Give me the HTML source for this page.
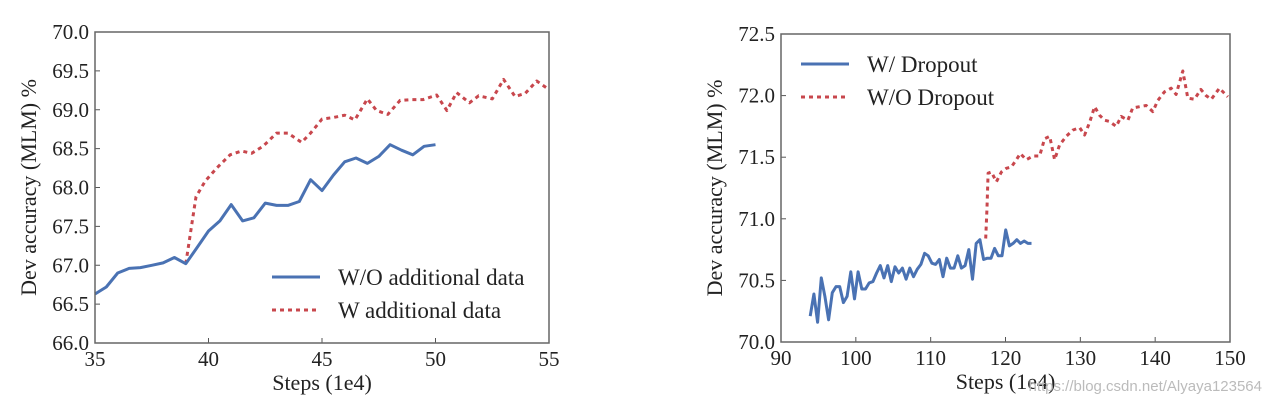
<!DOCTYPE html>
<html><head><meta charset="utf-8"><style>
body{margin:0;background:#fff;width:1271px;height:405px;overflow:hidden}
svg text{font-family:"Liberation Serif",serif;fill:#222}
</style></head><body>
<svg id="svg" width="1271" height="405"></svg>
<script>
const leftBlueX=[35,35.5,36,36.5,37,37.5,38,38.5,39,39.5,40,40.5,41,41.5,42,42.5,43,43.5,44,44.5,45,45.5,46,46.5,47,47.5,48,48.5,49,49.5,50];
const leftBlueY=[66.63,66.72,66.90,66.96,66.97,67.00,67.03,67.10,67.02,67.23,67.44,67.57,67.78,67.57,67.61,67.80,67.77,67.77,67.82,68.10,67.96,68.16,68.33,68.38,68.31,68.40,68.55,68.48,68.42,68.53,68.55];
const leftRedX=[39,39.2,39.45,39.85,40.36,40.95,41.46,41.9,42.4,43.0,43.5,44.1,44.5,45.0,45.5,46.0,46.45,47.0,47.4,47.9,48.44,48.95,49.46,50.05,50.5,50.93,51.5,51.9,52.5,53.0,53.5,53.95,54.46,54.9,55];
const leftRedY=[67.02,67.4,67.88,68.08,68.25,68.42,68.47,68.44,68.53,68.70,68.70,68.58,68.70,68.88,68.90,68.93,68.87,69.14,68.99,68.94,69.12,69.13,69.13,69.19,68.99,69.22,69.09,69.18,69.14,69.39,69.17,69.21,69.37,69.28,69.25];
const rightBlueY=[70.21,70.39,70.16,70.52,70.37,70.18,70.40,70.45,70.45,70.32,70.37,70.57,70.35,70.57,70.43,70.43,70.48,70.49,70.56,70.62,70.52,70.62,70.49,70.61,70.56,70.60,70.51,70.60,70.53,70.59,70.63,70.72,70.70,70.64,70.63,70.67,70.53,70.68,70.60,70.60,70.70,70.60,70.62,70.75,70.51,70.80,70.83,70.67,70.68,70.68,70.76,70.70,70.70,70.91,70.78,70.80,70.83,70.80,70.82,70.80,70.80];
const rightBlueX=rightBlueY.map((_,i)=>93.9+i*0.493);
const rightRedX=[117.35,117.53,117.67,118.11,118.78,119.45,120.11,120.78,121.45,121.98,122.78,123.67,124.56,125.23,125.9,126.56,127.23,128.12,129.0,129.9,130.57,131.23,131.9,132.57,133.23,133.9,134.79,135.46,136.35,137.0,137.9,138.8,139.68,140.35,141.24,142.13,142.8,143.69,144.36,145.25,146.1,146.8,147.5,148.58,149.7];
const rightRedY=[70.84,71.09,71.37,71.38,71.30,71.38,71.41,71.42,71.48,71.53,71.48,71.51,71.51,71.65,71.67,71.48,71.60,71.67,71.72,71.74,71.68,71.78,71.91,71.84,71.80,71.79,71.75,71.83,71.80,71.90,71.91,71.92,71.87,71.96,72.03,72.06,72.01,72.2,71.98,71.97,72.05,72.0,71.97,72.06,71.99];
const leftXTicks=[35,40,45,50,55];
const leftYTicks=["66.0","66.5","67.0","67.5","68.0","68.5","69.0","69.5","70.0"];
const rightXTicks=[90,100,110,120,130,140,150];
const rightYTicks=["70.0","70.5","71.0","71.5","72.0","72.5"];

const svg=document.getElementById('svg');
const NS='http://www.w3.org/2000/svg';
function mk(tag,attrs,parent){const e=document.createElementNS(NS,tag);for(const k in attrs)e.setAttribute(k,attrs[k]);(parent||svg).appendChild(e);return e;}

function chart(name,px0,px1,py0,py1,xmin,xmax,ymin,ymax,xt,yt,series,legend,lx,ly){
  const g=mk('g',{});
  
  
  const sx=v=>px0+(v-xmin)/(xmax-xmin)*(px1-px0);
  const sy=v=>py1-(v-ymin)/(ymax-ymin)*(py1-py0);
  xt.forEach(v=>{
    const t=mk('text',{x:sx(v),y:py1+23,'text-anchor':'middle','font-size':21},g);t.textContent=v;
    
    
    mk('line',{x1:sx(v),x2:sx(v),y1:py1,y2:py1-5,stroke:'#555'},g);
  });
  yt.forEach(s=>{
    const v=parseFloat(s);
    const t=mk('text',{x:px0-6,y:sy(v)+7,'text-anchor':'end','font-size':21},g);t.textContent=s;
    
    
    mk('line',{x1:px0,x2:px0+5,y1:sy(v),y2:sy(v),stroke:'#555'},g);
  });
  const xl=mk('text',{x:(px0+px1)/2,y:py1+47,'text-anchor':'middle','font-size':22},g);xl.textContent='Steps (1e4)';
  
  
  const yl=mk('text',{x:0,y:0,'text-anchor':'middle','font-size':22,transform:`translate(${px0-59},${(py0+py1)/2}) rotate(-90)`},g);yl.textContent='Dev accuracy (MLM) %';
  
  
  series.forEach(s=>{
    const d=s.x.map((v,i)=>(i?'L':'M')+sx(v).toFixed(1)+' '+sy(s.y[i]).toFixed(1)).join(' ');
    const p=mk('path',{d:d,fill:'none',stroke:s.c,'stroke-width':3,'stroke-linejoin':'round','stroke-dasharray':s.dash||'none'},g);
    
    
  });
  legend.forEach((l,i)=>{
    const y=ly+i*33;
    const ln=mk('line',{x1:lx,x2:lx+48,y1:y,y2:y,stroke:l.c,'stroke-width':3,'stroke-dasharray':l.dash||'none'},g);
    
    
    const t=mk('text',{x:lx+66,y:y+8,'font-size':23},g);t.textContent=l.t;
    
    
  });
  const f=mk('rect',{x:px0,y:py0,width:px1-px0,height:py1-py0,fill:'none',stroke:'#666','stroke-width':1.5},g);
  
  
}
const B='#4a72b3',R='#c8474d';
chart('left-chart',95,549,32,343,35,55,66,70,leftXTicks,leftYTicks,
 [{x:leftRedX,y:leftRedY,c:R,dash:'4 4',name:'series-w-additional'},{x:leftBlueX,y:leftBlueY,c:B,name:'series-wo-additional'}],
 [{t:'W/O additional data',c:B},{t:'W additional data',c:R,dash:'4 4'}],272,277);
chart('right-chart',781,1230,34,342,90,150,70,72.5,rightXTicks,rightYTicks,
 [{x:rightRedX,y:rightRedY,c:R,dash:'4 4',name:'series-wo-dropout'},{x:rightBlueX,y:rightBlueY,c:B,name:'series-w-dropout'}],
 [{t:'W/ Dropout',c:B},{t:'W/O Dropout',c:R,dash:'4 4'}],801,64);
const w=mk('text',{x:1262,y:391,'text-anchor':'end','font-size':15,style:'font-family:"Liberation Sans",sans-serif;fill:#bbb'});
w.textContent='https://blog.csdn.net/Alyaya123564';


</script>
</body></html>
